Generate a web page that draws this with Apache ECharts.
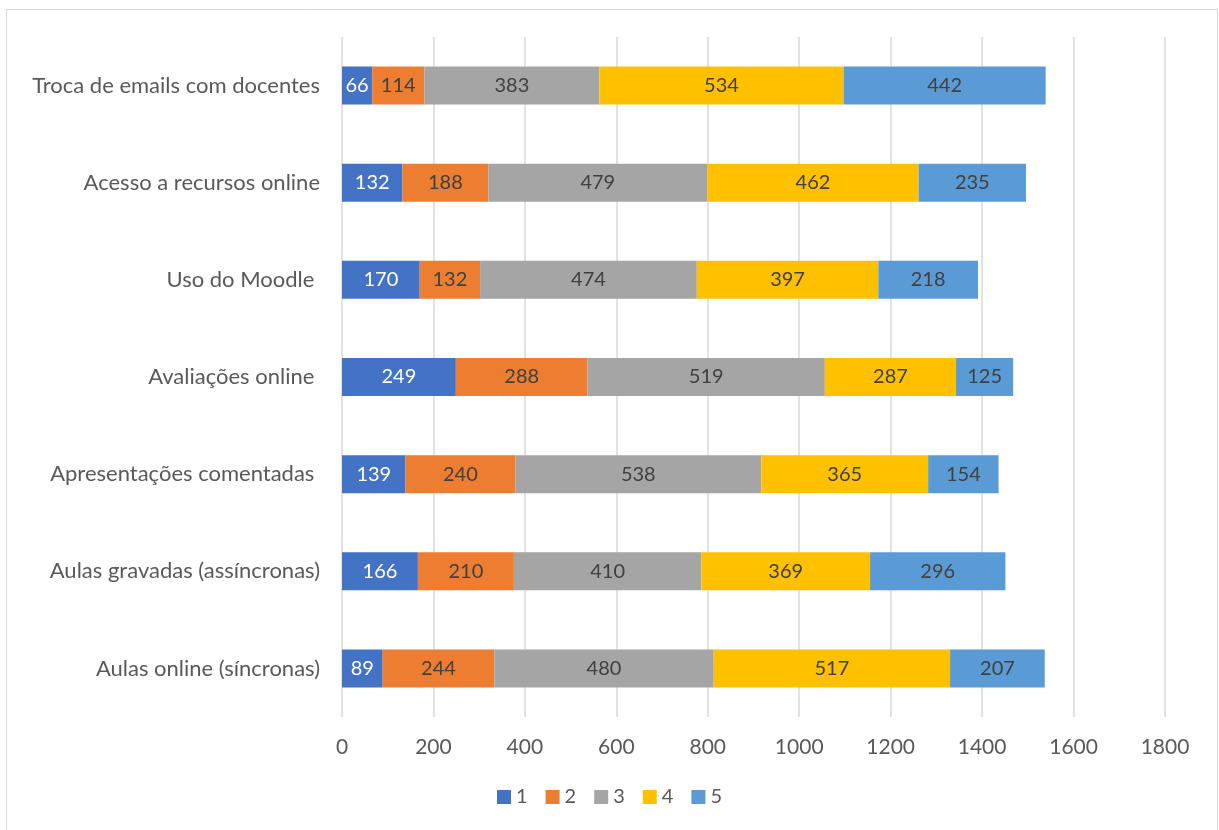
<!DOCTYPE html>
<html><head><meta charset="utf-8">
<script src="https://cdn.jsdelivr.net/npm/echarts@6/dist/echarts.min.js"></script>
<style>html,body{margin:0;padding:0;background:#fff}#c{width:1219px;height:830px}</style>
</head><body><div id="c"></div>
<script>
const categories = ['Aulas online (síncronas)','Aulas gravadas (assíncronas)','Apresentações comentadas ','Avaliações online ','Uso do Moodle ','Acesso a recursos online','Troca de emails com docentes'];
const s1 = [89,166,139,249,170,132,66];
const s2 = [244,210,240,288,132,188,114];
const s3 = [480,410,538,519,474,479,383];
const s4 = [517,369,365,287,397,462,534];
const s5 = [207,296,154,125,218,235,442];
const seriesNames = ['1','2','3','4','5'];
const colors = ['#4472C4','#ED7D31','#A5A5A5','#FFC000','#5B9BD5'];
const font = 'Lato, "Open Sans", sans-serif';
const chart = echarts.init(document.getElementById('c'));
const data = [s1,s2,s3,s4,s5];
chart.setOption({
  animation:false,
  textStyle:{fontFamily:font},
  graphic:[{type:'rect',shape:{x:6.5,y:9.5,width:1211,height:830},style:{fill:'none',stroke:'#d9d9d9',lineWidth:1}}],
  grid:{left:342,right:54,top:37,bottom:113},
  legend:{bottom:18,left:'center',itemWidth:14,itemHeight:14,itemGap:18,icon:'rect',
    textStyle:{fontSize:20,color:'#595959',fontFamily:font}},
  xAxis:{type:'value',min:0,max:1800,interval:200,
    axisLabel:{fontSize:21,color:'#595959',margin:20,fontFamily:font,formatter:v=>String(v)},
    splitLine:{lineStyle:{color:'#d9d9d9',width:1.5}},axisLine:{show:false},axisTick:{show:false}},
  yAxis:{type:'category',data:categories,
    axisLabel:{fontSize:22,color:'#595959',margin:22,fontFamily:font},
    axisLine:{show:false},axisTick:{show:false}},
  series:data.map((d,i)=>({name:seriesNames[i],type:'bar',stack:'t',data:d,barWidth:38,
    itemStyle:{color:colors[i]},
    label:{show:true,position:'inside',fontSize:20,fontFamily:font,color:i===0?'#ffffff':'#404040'}}))
});
</script></body></html>
